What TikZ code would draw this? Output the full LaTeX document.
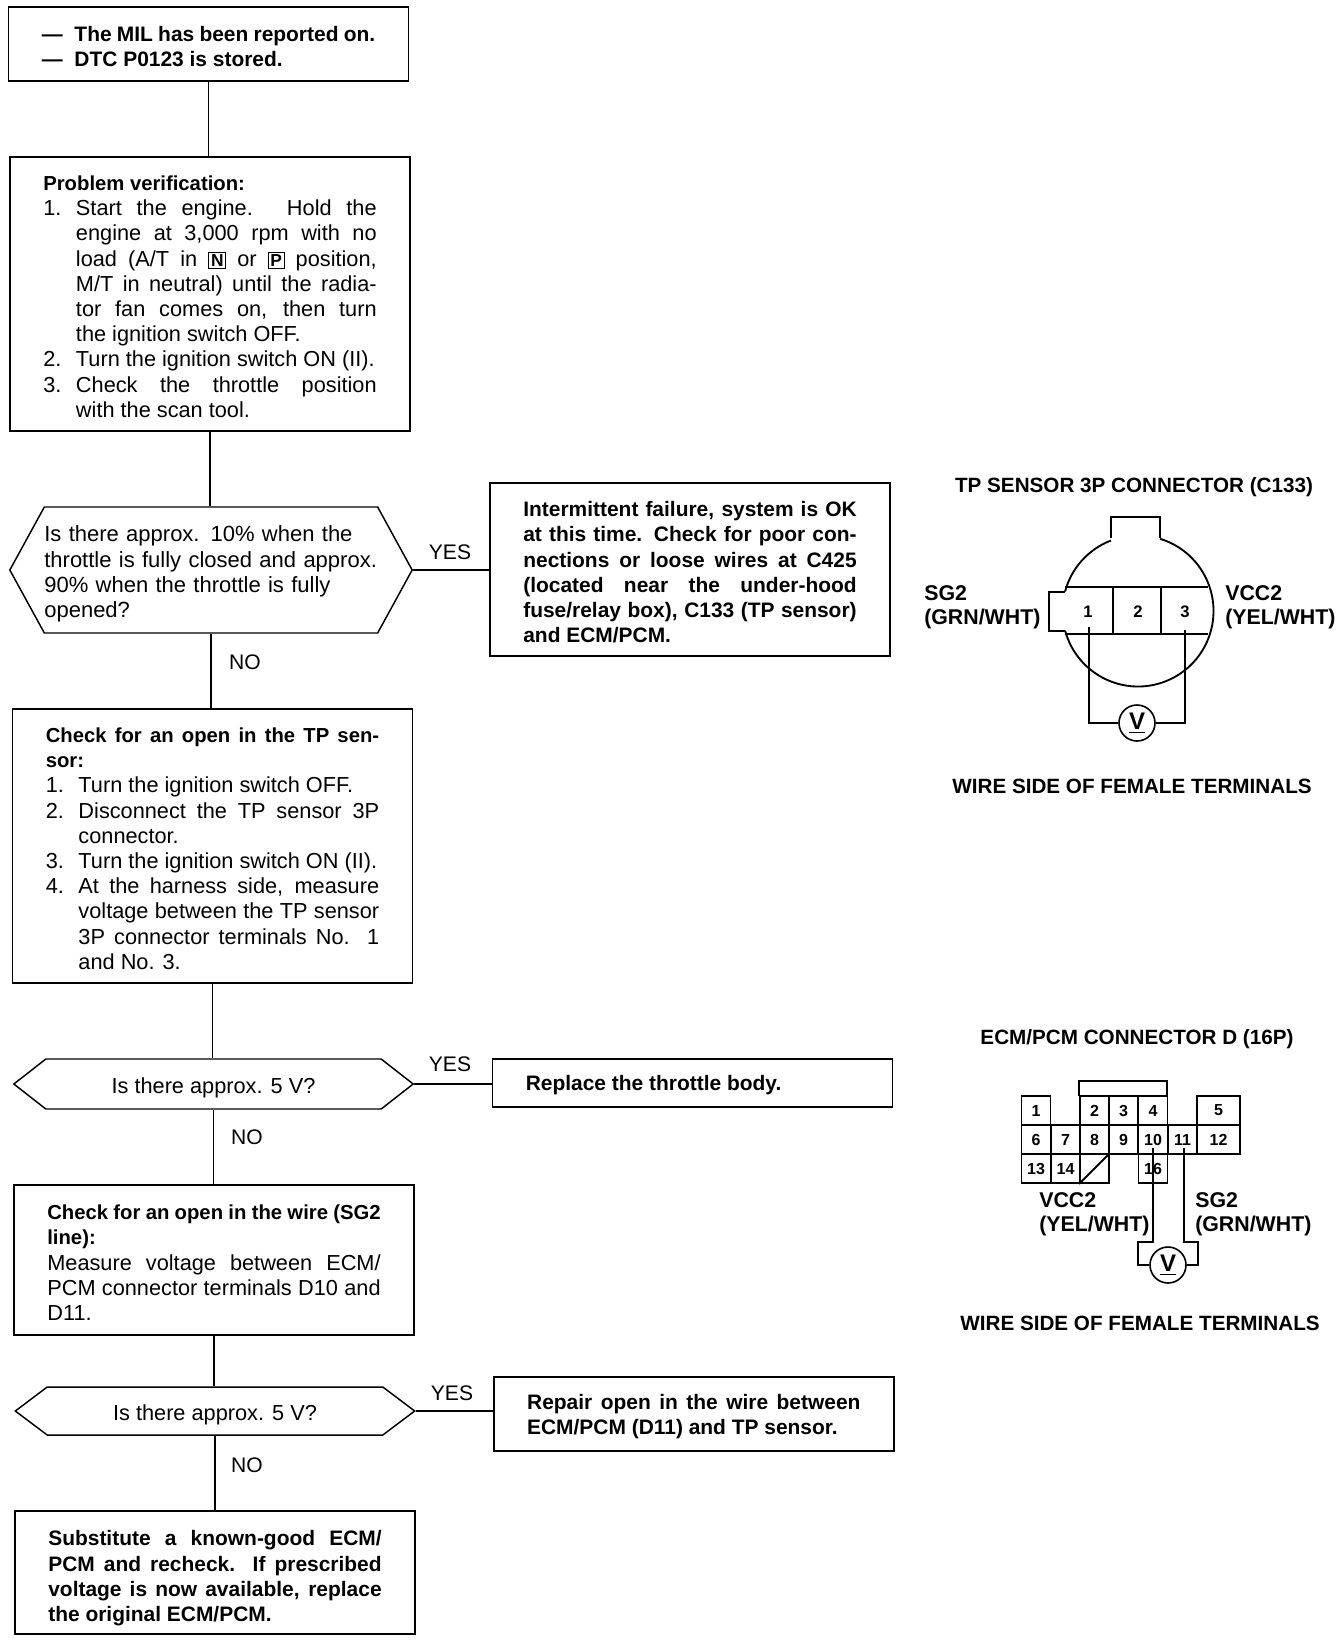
\documentclass[tikz,border=0pt]{standalone}
\usepackage{fontspec}
\setmainfont{Liberation Sans}
\usetikzlibrary{shapes.symbols}
\newcommand{\bodyfont}{\fontsize{16.3}{18.9}\selectfont}
\newcommand{\boldfont}{\fontsize{15.7}{18.9}\selectfont\bfseries}
\newcommand{\headtext}[1]{{\fontsize{15.2}{18.9}\selectfont\bfseries #1}}
\newcommand{\numitem}[2]{\par\noindent\hangindent=24.5pt\hangafter=1\makebox[24.5pt][l]{#1}#2\par}
\newcommand{\keybox}[1]{{\fboxsep=1.2pt\fboxrule=.8pt\fbox{\textbf{\fontsize{13}{13}\selectfont #1}}}}
\tikzset{
    flowbox/.style={draw,line width=1.4pt,text width=250pt,inner xsep=25pt,inner ysep=0pt,align=justify,font=\bodyfont,execute at end node={\par\vspace{-4pt}}},
    hexbox/.style={draw,line width=1.1pt,shape=signal,signal to=west and east,minimum width=299.5pt,inner sep=0pt,font=\bodyfont},
    lowtext/.style={text height=14pt,text depth=0pt},
    answer/.style={font=\fontsize{15.8}{18.9}\selectfont,inner sep=0pt},
    wire/.style={line width=1.2pt},
    cell/.style={draw,line width=1.4pt,minimum height=21.75pt,inner sep=0pt,font=\fontsize{12}{12}\selectfont\bfseries},
    meter/.style={draw,line width=1.2pt,circle,minimum size=27pt,inner sep=0pt,fill=white,font=\fontsize{18}{18}\selectfont\bfseries},
    caption/.style={font=\fontsize{15.5}{18.9}\selectfont\bfseries,inner sep=0pt},
    pinlabel/.style={align=left,font=\fontsize{16}{18}\selectfont\bfseries,inner sep=0pt,anchor=west}
}
\begin{document}
\begin{tikzpicture}[x=.75pt,y=-.75pt]
    \useasboundingbox (0,0) rectangle (1344,1642);
    % left column
    \node[flowbox,minimum height=55.5pt,font=\boldfont,execute at end node={\vspace{7.5pt}}] (start) at (208.5,44) {\numitem{---}{The MIL has been reported on.}\numitem{---}{DTC P0123 is stored.}};
    \node[flowbox,minimum height=205.5pt] (verify) at (210,294) {\headtext{Problem verification:}
        \numitem{1.}{Start the engine. Hold the\linebreak engine at 3,000 rpm with no\linebreak load (A/T in \keybox{N} or \keybox{P} position,\linebreak M/T in neutral) until the radia-\linebreak tor fan comes on, then turn\linebreak the ignition switch OFF.}
        \numitem{2.}{Turn the ignition switch ON (II).}
        \numitem{3.}{Check the throttle position\linebreak with the scan tool.}};
    \node[hexbox,minimum height=94.5pt,signal pointer angle=122.6,text width=250pt,align=left,font=\fontsize{16.5}{18.9}\selectfont,execute at end node={\par\vspace{-6pt}}] (range) at (211,570) {Is there approx. 10\% when the\\\mbox{throttle is fully closed and approx.}\\90\% when the throttle is fully\\opened?};
    \node[flowbox,minimum height=205.5pt] (sensor) at (212.5,846) {\headtext{Check for an open in the TP sen-\linebreak sor:}
        \numitem{1.}{Turn the ignition switch OFF.}
        \numitem{2.}{Disconnect the TP sensor 3P\linebreak connector.}
        \numitem{3.}{Turn the ignition switch ON (II).}
        \numitem{4.}{At the harness side, measure\linebreak voltage between the TP sensor\linebreak 3P connector terminals No. 1\linebreak and No. 3.}};
    \node[hexbox,lowtext,minimum height=37.5pt,signal pointer angle=76] (volt) at (213.5,1084) {Is there approx. 5 V?};
    \node[flowbox,minimum height=112.5pt] (wirecheck) at (214,1260) {\headtext{Check for an open in the wire (SG2\linebreak line):}\par Measure voltage between ECM/\linebreak PCM connector terminals D10 and\linebreak D11.};
    \node[hexbox,lowtext,minimum height=36pt,signal pointer angle=74] (voltb) at (215,1411) {Is there approx. 5 V?};
    \node[flowbox,minimum height=92pt,font=\boldfont,execute at end node={\vspace{-4.6pt}}] (subst) at (215,1572.5) {Substitute a known-good ECM/\linebreak PCM and recheck. If prescribed\linebreak voltage is now available, replace\linebreak the original ECM/PCM.};
    % right column
    \node[flowbox,minimum height=130pt,font=\boldfont] (okay) at (690,569.7) {Intermittent failure, system is OK\linebreak at this time. Check for poor con-\linebreak nections or loose wires at C425\linebreak (located near the under-hood\linebreak fuse/relay box), C133 (TP sensor)\linebreak and ECM/PCM.};
    \node[flowbox,minimum height=36pt,font=\boldfont] (body) at (692.5,1083) {Replace the throttle body.};
    \node[flowbox,minimum height=55.5pt,font=\boldfont] (repair) at (693.8,1413.7) {Repair open in the wire between\linebreak ECM/PCM (D11) and TP sensor.};
    % connectors
    \draw[line width=1.4pt] (start.south) -- (start.south |- verify.north);
    \draw[wire] (verify.south) -- (verify.south |- range.north);
    \draw[wire] (range.south) -- (range.south |- sensor.north);
    \draw[wire] (sensor.south) -- (sensor.south |- volt.north);
    \draw[wire] (volt.south) -- (volt.south |- wirecheck.north);
    \draw[wire] (wirecheck.south) -- (wirecheck.south |- voltb.north);
    \draw[wire] (voltb.south) -- (voltb.south |- subst.north);
    \draw[line width=2pt] (range.east) -- (range.east -| okay.west);
    \draw[wire] (volt.east) -- (volt.east -| body.west);
    \draw[wire] (voltb.east) -- (voltb.east -| repair.west);
    \node[answer] (yesa) at (450,552) {YES};
    \node[answer] (noa) at (245,662) {NO};
    \node[answer] (yesb) at (450,1064) {YES};
    \node[answer] (nob) at (247,1137) {NO};
    \node[answer] (yesc) at (452,1393) {YES};
    \node[answer] (noc) at (247,1465) {NO};
    % TP sensor connector
    \node[caption] (tptitle) at (1134,487) {TP SENSOR 3P CONNECTOR (C133)};
    \node[caption] (tpside) at (1132,786) {WIRE SIDE OF FEMALE TERMINALS};
    \draw[line width=1.4pt] (1138,611) ++(-73:75.5) arc[start angle=-73,end angle=165,radius=75.5];
    \draw[line width=1.4pt] (1138,611) ++(195:75.5) arc[start angle=195,end angle=249,radius=75.5];
    \draw[line width=1.4pt] (1111,538) |- (1160,517) -- (1160,538);
    \draw[line width=1.4pt] (1065,592) -| (1049,631) -- (1065,631);
    \draw[line width=1.4pt] (1065,587) -- (1208,587) (1065,634) -- (1208,634);
    \draw[line width=1.4pt] (1113,587) -- (1113,634) (1161,587) -- (1161,634);
    \node[caption,font=\fontsize{12.5}{12.5}\selectfont\bfseries] (tp1) at (1088,612) {1};
    \node[caption,font=\fontsize{12.5}{12.5}\selectfont\bfseries] (tp2) at (1138,612) {2};
    \node[caption,font=\fontsize{12.5}{12.5}\selectfont\bfseries] (tp3) at (1185,612) {3};
    \node[pinlabel] (tpsg) at (924,607) {SG2\\(GRN/WHT)};
    \node[pinlabel] (tpvcc) at (1225,607) {VCC2\\(YEL/WHT)};
    \node[meter] (vtp) at (1137,723) {\underline{V}};
    \coordinate (pinone) at (1089,627);
    \coordinate (pinthree) at (1185,630);
    \draw[wire] (pinone) |- (vtp.west);
    \draw[wire] (pinthree) |- (vtp.east);
    % ECM/PCM connector
    \node[caption] (ecmtitle) at (1137,1039) {ECM/PCM CONNECTOR D (16P)};
    \node[caption] (ecmside) at (1140,1323) {WIRE SIDE OF FEMALE TERMINALS};
    \draw[line width=1.4pt] (1079,1096) |- (1167,1081) -- (1167,1096);
    \foreach \n/\cx/\cy/\w in {1/1036/1110.5/21.75,2/1094.5/1110.5/21.75,3/1123.5/1110.5/21.75,4/1153/1110.5/21.75,5/1218.5/1110.5/32.25,
        6/1036/1139.5/21.75,7/1065.5/1139.5/21.75,8/1094.5/1139.5/21.75,9/1123.5/1139.5/21.75,10/1153/1139.5/21.75,11/1182.5/1139.5/21.75,12/1218.5/1139.5/32.25,
        13/1036/1168.5/21.75,14/1065.5/1168.5/21.75,16/1153/1168.5/21.75}
        \node[cell,minimum width=\w pt] (c\n) at (\cx,\cy) {\n};
    \node[cell,minimum width=21.75pt] (cblank) at (1094.5,1168.5) {};
    \draw[line width=1.4pt] (cblank.south west) -- (cblank.north east);
    \node[pinlabel] (ecmvcc) at (1039,1214) {VCC2\\(YEL/WHT)};
    \node[pinlabel] (ecmsg) at (1195,1214) {SG2\\(GRN/WHT)};
    \node[meter] (vecm) at (1168,1265) {\underline{V}};
    \coordinate (pinten) at (1153,1148);
    \coordinate (pineleven) at (1184,1148);
    \draw[wire] (pinten) |- (1138,1242) |- (vecm.west);
    \draw[wire] (pineleven) |- (1198,1242) |- (vecm.east);
\end{tikzpicture}
\end{document}
